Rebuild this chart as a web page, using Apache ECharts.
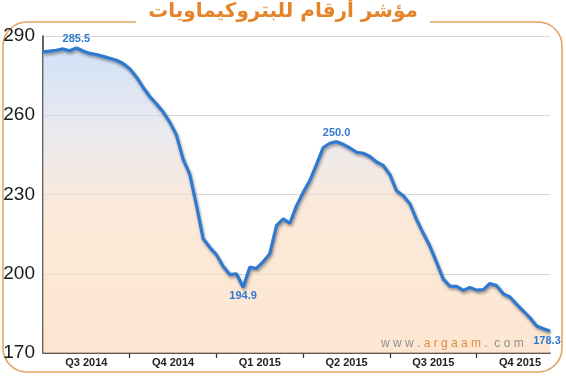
<!DOCTYPE html>
<html>
<head>
<meta charset="utf-8">
<script src="https://cdn.jsdelivr.net/npm/echarts@6/dist/echarts.min.js"></script>
<style>
    html, body { margin: 0; padding: 0; background: #fff; }
    #JS_Chart { width: 566px; height: 376px; }
</style>
</head>
<body>
<div id="JS_Chart"></div>
<script>
// weekly index values, Jul 2014 .. Dec 2015
const weekValues = [
    284.0, 284.3, 284.6, 285.1, 284.4, 285.5, 284.3, 283.4, 283.0, 282.3,
    281.6, 280.8, 279.6, 277.6, 274.5, 270.6, 267.1, 264.3, 261.3, 257.4,
    252.5, 243.4, 237.6, 226.0, 213.3, 210.0, 207.2, 202.8, 199.7, 200.0,
    194.9, 202.5, 202.0, 204.5, 207.6, 218.2, 220.8, 219.1, 225.7, 230.8,
    235.3, 241.4, 247.8, 249.4, 250.0, 249.0, 247.6, 246.0, 245.6, 244.4,
    242.3, 241.0, 237.5, 231.4, 229.5, 226.5, 220.5, 215.3, 210.4, 204.3,
    198.0, 195.3, 195.2, 193.7, 194.8, 193.8, 194.0, 196.3, 195.5, 192.4,
    191.2, 188.4, 185.9, 183.3, 180.2, 179.2, 178.3
];
const quarterLabels = ['Q3 2014', 'Q4 2014', 'Q1 2015', 'Q2 2015', 'Q3 2015', 'Q4 2015'];
// points that carry a value label, and where it goes
const labelPoints = [
    { idx: 5, pos: 'top' },
    { idx: 30, pos: 'bottom' },
    { idx: 44, pos: 'top' },
    { idx: 76, pos: 'bottom' }
];
const yTicks = [170, 200, 230, 260, 290];
const chartTitle = 'مؤشر أرقام للبتروكيماويات';

const WEEKS_PER_Q = 13;
const chart = echarts.init(document.getElementById('JS_Chart'), null, { renderer: 'canvas' });

const seriesData = weekValues.map((v, i) => {
    const lp = labelPoints.find(p => p.idx === i);
    if (!lp) {
        return [i, v];
    }
    return {
        value: [i, v],
        label: {
            show: true,
            position: lp.pos,
            distance: 3,
            offset: i === weekValues.length - 1 ? [-3, 1] : [0, 0]
        }
    };
});

const option = {
    backgroundColor: '#fff',
    animation: false,
    title: {
        text: chartTitle,
        left: 'center',
        top: 0,
        padding: [2, 12],
        backgroundColor: '#fff',
        textStyle: {
            fontFamily: 'DejaVu Sans',
            fontWeight: 'bold',
            fontSize: 20,
            color: '#e5842a'
        }
    },
    graphic: [
        {
            type: 'rect',
            z: 0,
            shape: { x: 3, y: 22, width: 559, height: 350, r: 24 },
            style: { fill: 'none', stroke: '#e4a461', lineWidth: 1.6 }
        },
        {
            type: 'text',
            z: 10,
            left: 381,
            top: 338,
            style: {
                text: '{g|w w w .} {o|a r g a a m} {g|.  c o m}',
                rich: {
                    g: { fill: '#8f8f8f', fontSize: 12, fontFamily: 'Liberation Sans' },
                    o: { fill: '#e38b3f', fontSize: 12, fontFamily: 'Liberation Sans' }
                }
            }
        }
    ],
    grid: {
        left: 43,
        right: 16,
        top: 36,
        bottom: 23,
        containLabel: false
    },
    xAxis: {
        type: 'value',
        min: 0,
        max: weekValues.length - 1,
        splitLine: { show: false },
        axisLine: { lineStyle: { color: '#333', width: 1.5 } },
        axisTick: {
            show: true,
            length: 5,
            customValues: [1, 2, 3, 4, 5].map(q => q * WEEKS_PER_Q),
            lineStyle: { color: '#333', width: 1.2 }
        },
        axisLabel: {
            customValues: quarterLabels.map((q, i) => i * WEEKS_PER_Q + WEEKS_PER_Q / 2),
            formatter: v => quarterLabels[Math.floor(v / WEEKS_PER_Q)],
            margin: 4,
            fontFamily: 'Liberation Sans',
            fontWeight: 'bold',
            fontSize: 11,
            color: '#222'
        }
    },
    yAxis: {
        type: 'value',
        min: yTicks[0],
        max: yTicks[yTicks.length - 1],
        interval: 30,
        axisLine: { show: true, lineStyle: { color: '#333', width: 1.5 } },
        axisTick: { show: false },
        splitLine: { lineStyle: { color: '#d6d6d6', width: 1 } },
        axisLabel: {
            margin: 8,
            fontFamily: 'Liberation Sans Narrow, Liberation Sans',
            fontSize: 19,
            color: '#1a1a1a'
        }
    },
    series: [{
        type: 'line',
        data: seriesData,
        symbol: 'circle',
        symbolSize: 1,
        showSymbol: true,
        showAllSymbol: true,
        itemStyle: { color: '#2f7ad0' },
        smooth: false,
        z: 3,
        lineStyle: {
            color: '#2f7ad0',
            width: 3.2,
            shadowColor: 'rgba(0,0,0,0.4)',
            shadowBlur: 3,
            shadowOffsetY: 2,
            shadowOffsetX: 1
        },
        areaStyle: {
            origin: 'start',
            color: new echarts.graphic.LinearGradient(0, 0, 0, 1, [
                { offset: 0, color: 'rgba(185,211,244,0.93)' },
                { offset: 0.3, color: 'rgba(226,223,228,0.93)' },
                { offset: 0.55, color: 'rgba(250,221,196,0.93)' },
                { offset: 1, color: 'rgba(252,218,186,0.93)' }
            ])
        },
        label: {
            show: false,
            formatter: p => p.value[1].toFixed(1),
            fontFamily: 'Liberation Sans',
            fontWeight: 'bold',
            fontSize: 11,
            color: '#2f7ad0'
        },
        emphasis: { disabled: true }
    }]
};

chart.setOption(option);
</script>
</body>
</html>
